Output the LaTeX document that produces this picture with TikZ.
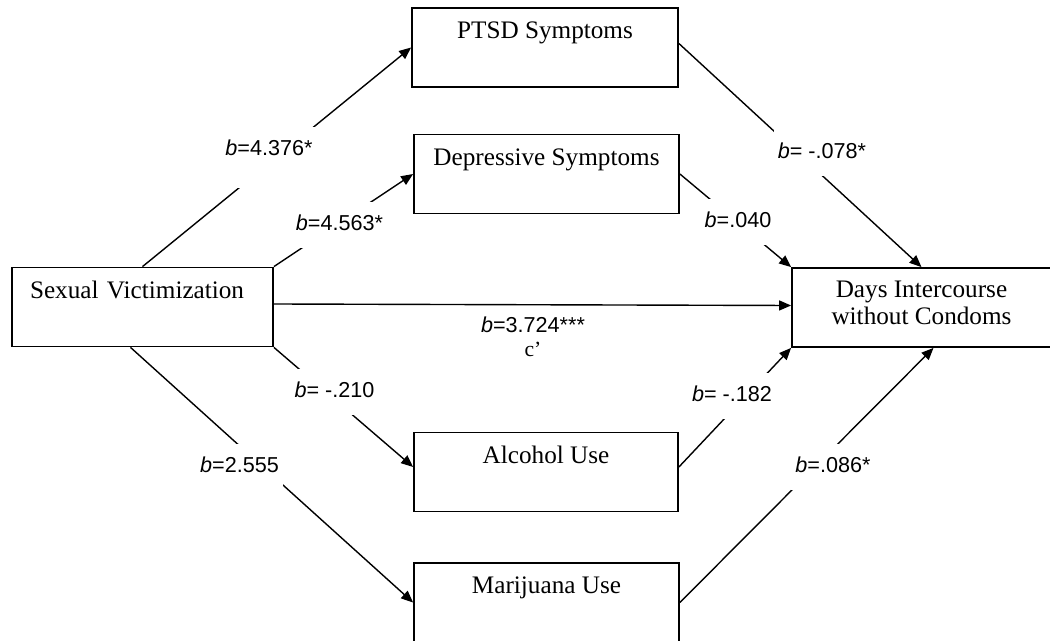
\documentclass[tikz,border=0pt]{standalone}
\usepackage{fontspec}
\setmainfont{Liberation Serif}
\newfontfamily\coeffont{Liberation Sans}
\usetikzlibrary{arrows.meta}

\begin{document}
\begin{tikzpicture}[
		  x=0.5pt, y=-0.5pt,
		  every node/.style={font=\fontsize{12.6}{13.5}\selectfont}
		]

		\tikzset{
		    caixa/.style={draw=black, line width=0.9pt, rectangle, minimum width=133pt, minimum height=39.5pt, inner ysep=0pt, text height=15.5pt, text depth=24pt},
		    seta/.style={-{Triangle[length=6pt, width=5pt]}, line width=0.7pt},
		    coef/.style={fill=white, anchor=base, inner xsep=2pt, inner ysep=1pt, text height=13.5pt, text depth=7.5pt, font=\coeffont\fontsize{10.8}{12}\selectfont}
		}

		\useasboundingbox (0,0) rectangle (1050,641);
		\clip (0,0) rectangle (1050,641);

		% Caixas
		\node[caixa] (PT) at (545,47.5) {PTSD Symptoms};
		\node[caixa, minimum width=132.5pt] (DS) at (546.5,174) {Depressive Symptoms};
		\node[caixa, minimum width=130.5pt, align=left, text width=112.5pt, inner xsep=9pt] (SV) at (142.5,307) {Sexual Victimization};
		\node[caixa, minimum width=129.5pt, align=center, text height=, text depth=4.5pt] (DC) at (921.5,307.5) {Days Intercourse\\without Condoms};
		\node[caixa, minimum width=132pt] (AU) at (546,472) {Alcohol Use};
		\node[caixa, minimum width=132.5pt] (MU) at (546.5,602.5) {Marijuana Use};

		% setas
		\draw[seta] (SV.north) -- (PT.west);
		\draw[seta] (SV.north east) -- (DS.west);
		\draw[seta] ([yshift=1.5pt]SV.east) -- ([yshift=1pt]DC.west);
		\draw[seta] (SV.south east) -- ([yshift=2.5pt]AU.west);
		\draw[seta] ([xshift=-6pt]SV.south) -- (MU.west);
		\draw[seta] ([yshift=2pt]PT.east) -- (DC.north);
		\draw[seta] (DS.east) -- (DC.north west);
		\draw[seta] ([yshift=2.5pt]AU.east) -- (DC.south west);
		\draw[seta] (MU.east) -- ([xshift=6pt]DC.south);

		% coeficientes
		\node[coef, text depth=15pt] (B1) at (269,156) {\textit{b}=4.376*};
		\node[coef] (B2) at (339.5,231) {\textit{b}=4.563*};
		\node[coef, fill=none, text height=, text depth=, align=center, anchor=center, inner sep=0pt] (B3) at (533,337) {\textit{b}=3.724***\\{\rmfamily c'}};
		\node[coef] (B4) at (334.5,398) {\textit{b}= -.210};
		\node[coef] (B5) at (239.5,473) {\textit{b}=2.555};
		\node[coef] (B6) at (822,159) {\textit{b}= -.078*};
		\node[coef] (B7) at (738,228) {\textit{b}=.040};
		\node[coef] (B8) at (732,402) {\textit{b}= -.182};
		\node[coef] (B9) at (833,473) {\textit{b}=.086*};

		\end{tikzpicture}
\end{document}
